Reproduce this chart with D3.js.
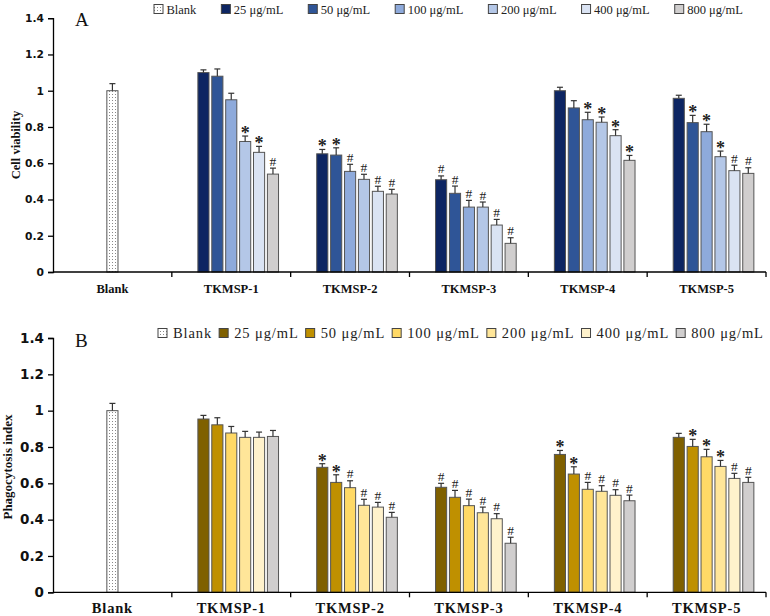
<!DOCTYPE html>
<html><head><meta charset="utf-8">
<script src="https://cdn.jsdelivr.net/npm/d3@7"></script>
<style>body{margin:0;background:#fff}svg{display:block}</style>
</head><body>
<svg id="chart" width="770" height="616"></svg>
<script>
const categories = ["Blank","TKMSP-1","TKMSP-2","TKMSP-3","TKMSP-4","TKMSP-5"];
const groups = ["TKMSP-1","TKMSP-2","TKMSP-3","TKMSP-4","TKMSP-5"];
const concentrations = ["25 μg/mL","50 μg/mL","100 μg/mL","200 μg/mL","400 μg/mL","800 μg/mL"];
const legendLabels = ["Blank"].concat(concentrations);
const yTicks = [0,0.2,0.4,0.6,0.8,1,1.2,1.4];

// Panel A: cell viability
const blankViability = 1.0, blankViabilitySD = 0.039;
const viability = [
  [1.10,1.08,0.95,0.72,0.66,0.54],
  [0.652,0.645,0.555,0.511,0.445,0.430],
  [0.509,0.434,0.358,0.358,0.259,0.158],
  [1.0,0.905,0.840,0.826,0.752,0.616],
  [0.958,0.824,0.774,0.636,0.559,0.544]
];
const viabilitySD = [
  [0.015,0.040,0.036,0.030,0.033,0.033],
  [0.024,0.040,0.039,0.028,0.028,0.026],
  [0.021,0.040,0.037,0.028,0.031,0.031],
  [0.019,0.040,0.041,0.029,0.033,0.027],
  [0.017,0.040,0.041,0.031,0.030,0.031]
];
const viabilityMarks = [
  ["","","","*","*","#"],
  ["*","*","#","#","#","#"],
  ["#","#","#","#","#","#"],
  ["","","*","*","*","*"],
  ["","*","*","*","#","#"]
];

// Panel B: phagocytosis index
const blankPhago = 1.0, blankPhagoSD = 0.040;
const phago = [
  [0.954,0.922,0.877,0.853,0.853,0.858],
  [0.688,0.605,0.576,0.479,0.469,0.413],
  [0.578,0.523,0.477,0.438,0.405,0.270],
  [0.759,0.651,0.567,0.556,0.534,0.504],
  [0.853,0.803,0.746,0.693,0.627,0.605]
];
const phagoSD = [
  [0.020,0.039,0.036,0.033,0.029,0.033],
  [0.020,0.042,0.038,0.033,0.026,0.027],
  [0.022,0.038,0.036,0.031,0.028,0.033],
  [0.022,0.040,0.038,0.031,0.031,0.031],
  [0.022,0.039,0.041,0.033,0.028,0.028]
];
const phagoMarks = [
  ["","","","","",""],
  ["*","*","#","#","#","#"],
  ["#","#","#","#","#","#"],
  ["*","*","#","#","#","#"],
  ["","*","*","*","#","#"]
];

const blueColors = ["#0d2562","#2f5597","#8eaadb","#b4c7e7","#dae3f3","#d0cece"];
const goldColors = ["#7f6000","#bf9000","#ffd966","#ffe699","#fff2cc","#d0cece"];

const svg = d3.select("#chart");
const defs = svg.append("defs");
const pat = defs.append("pattern").attr("id","dots").attr("patternUnits","userSpaceOnUse")
  .attr("width",3).attr("height",3);
pat.append("rect").attr("width",3).attr("height",3).attr("fill","#fff");
pat.append("rect").attr("x",1).attr("y",1).attr("width",1).attr("height",1).attr("fill","#888");

const serif = "Liberation Serif, Times New Roman, serif";

function panel(cfg){
  const g = svg.append("g");
  const x0 = d3.scaleBand().domain(categories).range([53,766]).paddingInner(0).paddingOuter(0);
  const x1 = d3.scaleBand().domain(d3.range(7)).range([0,x0.bandwidth()]).paddingInner(0.2).paddingOuter(0.873);
  const y = d3.scaleLinear().domain([0,1.4]).range([cfg.y0,cfg.y14]);

  // y axis
  const ya = g.append("g").attr("transform","translate(53,0)")
    .call(d3.axisLeft(y).tickValues(yTicks).tickFormat(d=>d3.format("")(+d.toFixed(1))).tickSize(5).tickSizeOuter(5).tickPadding(4));
  ya.select(".domain").attr("stroke","#000").attr("stroke-width",1.3);
  ya.selectAll(".tick line").attr("stroke","#000").attr("stroke-width",1.3);
  ya.selectAll(".tick text").style("font-family","DejaVu Sans, Verdana, sans-serif")
    .style("font-weight","bold").style("font-size",cfg.tickFont+"px").attr("fill","#111");

  // y title
  g.append("text").attr("transform",`translate(${cfg.titleX},${cfg.titleY}) rotate(-90)`)
    .attr("text-anchor","middle").style("font-family",serif).style("font-weight","bold")
    .style("font-size",cfg.titleFont+"px").attr("fill","#111").text(cfg.title);

  // panel letter
  g.append("text").attr("x",75).attr("y",cfg.letterY).style("font-family",serif)
    .style("font-size","19px").attr("fill","#111").text(cfg.letter);

  // bars: blank
  const bx = x0("Blank") + x0.bandwidth()/2 - x1.bandwidth()/2;
  g.append("rect").attr("x",bx).attr("y",y(cfg.blank)).attr("width",x1.bandwidth())
    .attr("height",y(0)-y(cfg.blank)).attr("fill","url(#dots)").attr("stroke","#555").attr("stroke-width",1);
  errBar(g, bx + x1.bandwidth()/2, y(cfg.blank), y(cfg.blank+cfg.blankSD));

  groups.forEach((grp,gi)=>{
    cfg.values[gi].forEach((v,ci)=>{
      const xx = x0(grp) + x1(ci+1);
      g.append("rect").attr("x",xx).attr("y",y(v)).attr("width",x1.bandwidth())
        .attr("height",y(0)-y(v)).attr("fill",cfg.colors[ci]).attr("stroke","#555").attr("stroke-width",1);
      const cx = xx + x1.bandwidth()/2;
      const et = y(v+cfg.sd[gi][ci]);
      errBar(g, cx, y(v), et);
      const m = cfg.marks[gi][ci];
      if(m==="*"){
        g.append("text").attr("x",cx).attr("y",et+3).attr("text-anchor","middle")
          .style("font-family",serif).style("font-weight","bold").style("font-size","18px").attr("fill","#222").text("*");
      } else if(m==="#"){
        g.append("text").attr("x",cx).attr("y",et-2.5).attr("text-anchor","middle")
          .style("font-family",serif).style("font-size","13.5px").attr("fill","#222").text("#");
      }
    });
  });

  // x axis
  g.append("line").attr("x1",53).attr("x2",766).attr("y1",y(0)).attr("y2",y(0))
    .attr("stroke","#000").attr("stroke-width",1.3);
  categories.forEach(c=>{
    const xe = x0(c)+x0.bandwidth();
    g.append("line").attr("x1",xe).attr("x2",xe).attr("y1",y(0)).attr("y2",y(0)+5)
      .attr("stroke","#000").attr("stroke-width",1.3);
    g.append("text").attr("x",x0(c)+x0.bandwidth()/2).attr("y",cfg.catY).attr("text-anchor","middle")
      .style("font-family",serif).style("font-weight","bold").style("font-size",cfg.catFont+"px")
      .style("letter-spacing",cfg.catSpacing+"px").attr("fill","#111").text(c);
  });

  // legend
  let lx = cfg.legX;
  legendLabels.forEach((lab,i)=>{
    g.append("rect").attr("x",lx).attr("y",cfg.legY-4.5).attr("width",9).attr("height",9)
      .attr("fill", i===0 ? "url(#dots)" : cfg.colors[i-1]).attr("stroke","#444").attr("stroke-width",1);
    const t = g.append("text").attr("x",lx+cfg.legTextOff).attr("y",cfg.legY+4.5)
      .style("font-family",serif).style("font-size",cfg.legFont+"px").style("letter-spacing",cfg.legSpacing+"px")
      .attr("fill","#222").text(lab);
    lx = lx + cfg.legTextOff + t.node().getComputedTextLength() + cfg.legGap;
  });
}

function errBar(g, cx, yTop, yErr){
  g.append("line").attr("x1",cx).attr("x2",cx).attr("y1",yTop).attr("y2",yErr).attr("stroke","#333").attr("stroke-width",1.2);
  g.append("line").attr("x1",cx-3).attr("x2",cx+3).attr("y1",yErr).attr("y2",yErr).attr("stroke","#333").attr("stroke-width",1.2);
}

panel({y0:272, y14:18.2, values:viability, sd:viabilitySD, marks:viabilityMarks, colors:blueColors,
  blank:blankViability, blankSD:blankViabilitySD, title:"Cell viability", titleX:20, titleY:145, titleFont:12.5,
  letter:"A", letterY:26, tickFont:10.7, catY:293, catFont:12.5, catSpacing:0,
  legX:154, legY:9, legTextOff:12.5, legFont:12.5, legSpacing:0, legGap:25});

panel({y0:592.3, y14:338, values:phago, sd:phagoSD, marks:phagoMarks, colors:goldColors,
  blank:blankPhago, blankSD:blankPhagoSD, title:"Phagocytosis index", titleX:12, titleY:467, titleFont:13,
  letter:"B", letterY:347, tickFont:13.5, catY:613, catFont:14.5, catSpacing:0.8,
  legX:158, legY:333, legTextOff:15, legFont:14.5, legSpacing:0.9, legGap:7});
</script>
</body></html>
